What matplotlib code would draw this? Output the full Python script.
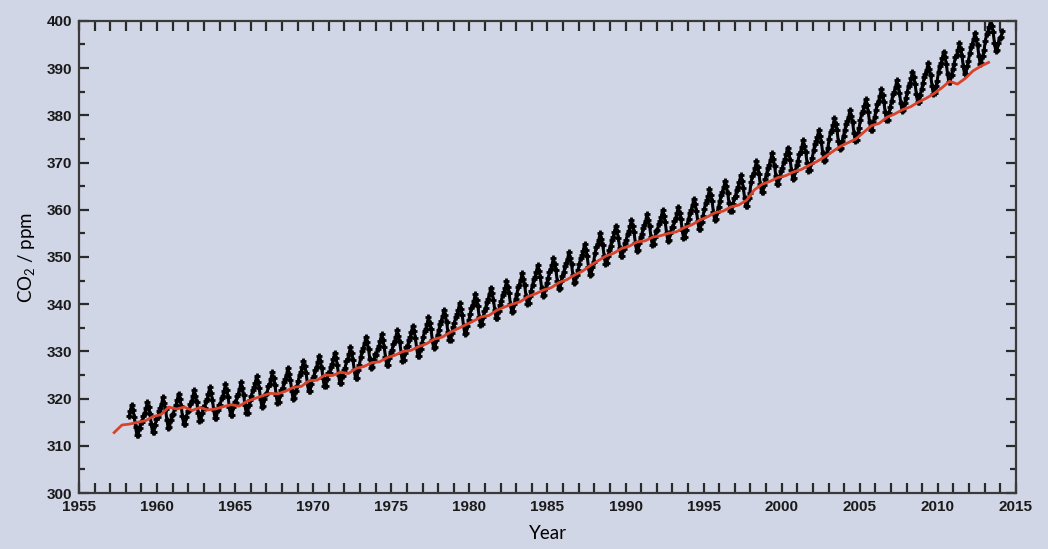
import matplotlib.pyplot as plt
import numpy as np
from matplotlib.ticker import MultipleLocator

# Mauna Loa style record: annual means (ppm), 1958..2014
years = list(range(1958, 2015))
annual_mean = [315.3, 315.98, 316.91, 317.64, 318.45, 318.99, 319.62, 320.04,
               321.37, 322.18, 323.05, 324.62, 325.68, 326.32, 327.46, 329.68,
               330.19, 331.12, 332.03, 333.84, 335.41, 336.84, 338.76, 340.12,
               341.48, 343.15, 344.85, 346.35, 347.61, 349.31, 351.69, 353.20,
               354.45, 355.70, 356.54, 357.21, 358.96, 360.97, 362.74, 363.88,
               366.84, 368.54, 369.71, 371.32, 373.45, 375.98, 377.70, 379.98,
               382.09, 384.02, 385.83, 387.64, 390.10, 391.85, 394.06, 396.74,
               397.4]
# monthly departure from the annual mean, Jan..Dec
season = [-0.9, 0.4, 1.0, 2.0, 3.4, 2.2, 0.8, -1.4, -3.1, -3.0, -1.5, -0.3]
first_month = 2   # record starts in March 1958
last_month = 1    # ends in February 2014

# second record (red), every half year from 1957.25
red_start = 1957.25
red_ppm = [312.8, 314.4, 314.6, 315.0, 315.3, 316.2, 316.6, 318.2, 317.8, 318.2,
           317.5, 318.1, 317.6, 317.8, 318.3, 318.7, 318.4, 319.4, 320.0, 320.6,
           321.1, 321.0, 321.6, 322.4, 322.6, 323.8, 323.9, 325.0, 324.9, 325.6,
           325.3, 326.4, 326.8, 327.6, 327.8, 328.7, 329.2, 330.0, 330.2, 331.0,
           331.6, 332.6, 333.0, 334.0, 334.8, 335.6, 336.4, 337.3, 337.6, 338.7,
           339.4, 340.0, 340.5, 341.6, 342.2, 343.0, 343.5, 344.6, 345.2, 346.2,
           347.0, 348.2, 349.2, 350.2, 350.8, 351.8, 352.3, 353.2, 353.4, 354.2,
           354.5, 355.0, 355.3, 356.2, 356.8, 357.8, 358.5, 359.4, 359.7, 360.6,
           361.0, 362.0, 364.2, 365.4, 366.0, 366.8, 367.2, 368.0, 368.5, 369.4,
           370.2, 371.2, 372.3, 373.4, 374.2, 375.0, 376.4, 377.8, 378.3, 379.6,
           380.3, 381.2, 381.8, 382.8, 383.6, 384.6, 385.8, 387.2, 386.6, 387.8,
           389.4, 390.4, 391.2]

t, co2 = [], []
for i, (y, mean) in enumerate(zip(years, annual_mean)):
    for m in range(12):
        if i == 0 and m < first_month:
            continue
        if i == len(years) - 1 and m > last_month:
            break
        t.append(y + (m + 0.5) / 12)
        co2.append(mean + season[m])
red_t = red_start + 0.5 * np.arange(len(red_ppm))

bg = '#d1d6e6'
plt.rcParams['mathtext.fontset'] = 'custom'
plt.rcParams['mathtext.rm'] = 'Lato'

fig = plt.figure(figsize=(10.48, 5.49), dpi=100, facecolor=bg)
ax = fig.add_axes([0.0754, 0.102, 0.894, 0.860], facecolor=bg)

ax.plot(red_t, red_ppm, color='#d8432a', lw=2.0, zorder=3)
ax.plot(t, co2, color='black', lw=2.2, marker='+', ms=5, mew=2.0, zorder=2)

ax.set_xlim(1955, 2015)
ax.set_ylim(300, 400)
ax.xaxis.set_major_locator(MultipleLocator(5))
ax.xaxis.set_minor_locator(MultipleLocator(1))
ax.yaxis.set_major_locator(MultipleLocator(10))
ax.yaxis.set_minor_locator(MultipleLocator(5))
ax.tick_params(which='both', direction='in', top=True, right=True,
               color='#2a2a2a', width=1.6)
ax.tick_params(axis='x', which='both', length=7)
ax.tick_params(axis='y', which='major', length=7)
ax.tick_params(axis='y', which='minor', length=4)
ax.tick_params(axis='x', which='major', labelsize=11, pad=5)
ax.tick_params(axis='y', which='major', labelsize=11, pad=5)
for lab in ax.get_xticklabels() + ax.get_yticklabels():
    lab.set_family(['Liberation Sans', 'DejaVu Sans'])
    lab.set_fontweight('bold')
    lab.set_color('#1a1a1a')
for s in ax.spines.values():
    s.set_linewidth(1.6)
    s.set_color('#3a3a3a')

ax.set_xlabel('Year', family='Lato', fontsize=13.5, labelpad=8)
ax.set_ylabel(r'CO$_\mathregular{2}$ / ppm', family='Lato', fontsize=13.5, labelpad=6)

plt.savefig('out.png', dpi=100, facecolor=bg)
